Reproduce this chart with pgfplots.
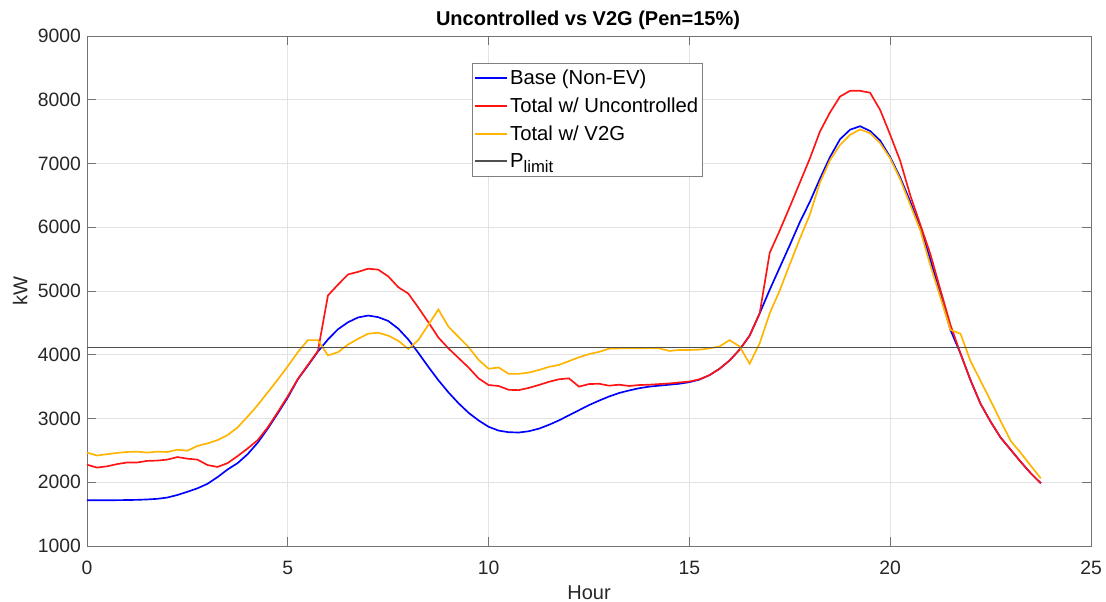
\documentclass[border=0pt]{standalone}
\usepackage{fontspec}
\setmainfont{Liberation Sans}
\usepackage{pgfplots}
\usepackage{pgfplotstable}
\pgfplotsset{compat=1.18}

\definecolor{mblue}{RGB}{0,0,255}
\definecolor{mred}{RGB}{255,20,20}
\definecolor{morange}{RGB}{255,180,0}
\definecolor{axgray}{RGB}{38,38,38}
\definecolor{limgray}{RGB}{80,80,80}

\pgfplotstableread{
h base unc v2g
0.00 1717 2275 2465
0.25 1717 2230 2420
0.50 1718 2250 2440
0.75 1719 2285 2460
1.00 1721 2310 2475
1.25 1724 2310 2480
1.50 1730 2335 2465
1.75 1740 2340 2480
2.00 1760 2355 2475
2.25 1800 2395 2510
2.50 1850 2370 2495
2.75 1905 2355 2570
3.00 1975 2270 2610
3.25 2080 2240 2660
3.50 2200 2300 2740
3.75 2300 2410 2860
4.00 2440 2530 3030
4.25 2620 2660 3210
4.50 2840 2860 3410
4.75 3080 3100 3610
5.00 3330 3350 3820
5.25 3615 3620 4040
5.50 3830 3840 4230
5.75 4050 4060 4230
6.00 4240 4930 3990
6.25 4400 5100 4040
6.50 4510 5260 4160
6.75 4585 5300 4250
7.00 4615 5350 4330
7.25 4590 5335 4345
7.50 4530 5230 4300
7.75 4410 5060 4220
8.00 4240 4960 4090
8.25 4030 4740 4230
8.50 3810 4510 4470
8.75 3600 4270 4710
9.00 3410 4100 4440
9.25 3240 3950 4280
9.50 3090 3800 4120
9.75 2970 3630 3920
10.00 2870 3525 3780
10.25 2810 3510 3800
10.50 2785 3450 3700
10.75 2780 3445 3700
11.00 2800 3480 3720
11.25 2840 3525 3760
11.50 2900 3575 3810
11.75 2970 3615 3840
12.00 3050 3630 3900
12.25 3130 3500 3960
12.50 3210 3540 4010
12.75 3280 3545 4045
13.00 3345 3515 4095
13.25 3400 3530 4100
13.50 3440 3510 4100
13.75 3475 3525 4100
14.00 3500 3530 4105
14.25 3515 3540 4100
14.50 3530 3550 4060
14.75 3545 3565 4075
15.00 3570 3580 4075
15.25 3610 3615 4080
15.50 3680 3680 4100
15.75 3780 3780 4130
16.00 3910 3910 4230
16.25 4080 4080 4130
16.50 4300 4300 3860
16.75 4650 4650 4180
17.00 5020 5600 4650
17.25 5370 5950 5010
17.50 5720 6320 5420
17.75 6080 6700 5820
18.00 6400 7080 6200
18.25 6760 7500 6700
18.50 7100 7800 7050
18.75 7380 8050 7290
19.00 7530 8140 7450
19.25 7585 8140 7535
19.50 7510 8110 7475
19.75 7360 7840 7320
20.00 7100 7450 7080
20.25 6780 7040 6750
20.50 6400 6500 6350
20.75 5990 6040 5950
21.00 5490 5580 5400
21.25 4940 5020 4900
21.50 4390 4470 4390
21.75 4020 4020 4330
22.00 3600 3600 3900
22.25 3230 3230 3590
22.50 2950 2950 3280
22.75 2700 2700 2960
23.00 2510 2510 2650
23.25 2320 2320 2460
23.50 2140 2140 2260
23.75 1985 1985 2060
}\loadtable

\pgfplotstableread{
h p
0 4120
25 4120
}\limtable

\begin{document}
\begin{tikzpicture}
\begin{axis}[
  at={(0,0)}, anchor=south west,
  scale only axis, width=753pt, height=382.5pt,
  xmin=0, xmax=25, ymin=1000, ymax=9000,
  xtick={0,5,10,15,20,25}, ytick={1000,2000,3000,4000,5000,6000,7000,8000,9000},
  grid=major, grid style={black!11, line width=0.5pt},
  axis line style={black!55, line width=0.6pt},
  tick style={black!55, line width=0.6pt},
  major tick length=7pt, tick align=inside,
  ticklabel style={font=\fontsize{14.5}{17}\selectfont, color=axgray},
  xticklabel style={yshift=-8pt},
  yticklabel style={xshift=-1pt},
  /pgf/number format/assume math mode=true,
  /pgf/number format/1000 sep={},
  xlabel={Hour}, ylabel={kW},
  label style={font=\fontsize{15}{18}\selectfont, color=axgray},
  xlabel style={at={(axis description cs:0.5,-0.0922)}, anchor=center},
  ylabel style={at={(axis description cs:-0.0667,0.5)}, anchor=center},
  title={Uncontrolled vs V2G (Pen=15\%)},
  every axis title shift=0pt,
  title style={at={(axis description cs:0.499,1.0314)}, anchor=center, font=\bfseries\fontsize{15}{18}\selectfont},
  legend cell align=left,
  legend image code/.code={\draw[#1, line width=1.4pt] (0pt,0pt) -- (24pt,0pt);},
  legend style={at={(rel axis cs:0.3835,0.947)}, anchor=north west,
    draw=black!50, fill=white,
    font=\fontsize{15.2}{18}\selectfont, text=black,
    inner xsep=1.5pt, inner ysep=3.5pt, row sep=5.3pt,
    nodes={inner sep=1.5pt}},
]
\addplot[mblue, line width=1.25pt] table[x=h, y=base] {\loadtable};
\addlegendentry{Base (Non-EV)}
\addplot[mred, line width=1.25pt] table[x=h, y=unc] {\loadtable};
\addlegendentry{Total w/ Uncontrolled}
\addplot[morange, line width=1.25pt] table[x=h, y=v2g] {\loadtable};
\addlegendentry{Total w/ V2G}
\addplot[limgray, line width=0.8pt, legend image post style={line width=0.8pt}] table[x=h, y=p] {\limtable};
\addlegendentry{P\raisebox{-0.5ex}{\fontsize{12.5}{14}\selectfont limit}}
\end{axis}
\pgfresetboundingbox
\path[use as bounding box] (-65.25pt,-42pt) rectangle (764.25pt,409.5pt);
\end{tikzpicture}
\end{document}
